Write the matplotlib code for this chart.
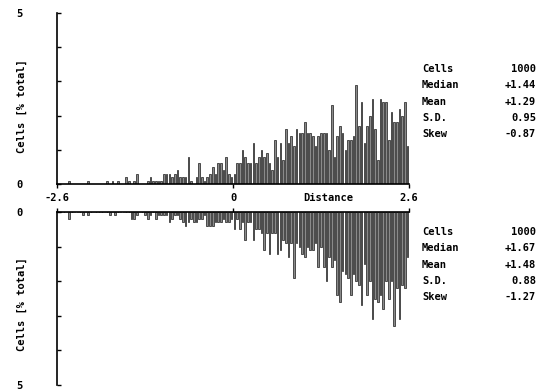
import numpy as np
import matplotlib
matplotlib.use("Agg")
import matplotlib.pyplot as plt

# bin edges of the distance histogram
x_min, x_max = -2.6, 2.6
x_ticks = [-2.6, 0, 2.6]
x_ticklabels = ["-2.6", "0", "2.6"]

# cell percentages per bin (top panel)
top_pct = [
    0, 0, 0, 0, 0.1, 0, 0, 0, 0, 0,
    0, 0.1, 0, 0, 0, 0, 0, 0, 0.1, 0,
    0.1, 0, 0.1, 0, 0, 0.2, 0.1, 0, 0.1, 0.3,
    0, 0, 0, 0.1, 0.2, 0.1, 0.1, 0.1, 0.1, 0.3,
    0.3, 0.3, 0.2,
    0.3, 0.4, 0.2, 0.2, 0.2, 0.8, 0.1, 0, 0.2, 0.6,
    0.2, 0.1, 0.2, 0.3, 0.5, 0.3, 0.6, 0.6, 0.4, 0.8,
    0.3, 0.2,
    0.3, 0.6, 0.6, 1.0, 0.8, 0.6, 0.6, 1.2, 0.6, 0.8,
    1.0, 0.8, 0.9, 0.6, 0.4, 1.3, 0.8, 1.2, 0.7, 1.6, 1.2,
    1.4, 1.1, 1.6, 1.5, 1.5, 1.8, 1.5, 1.5, 1.4, 1.1,
    1.4, 1.5, 1.5, 1.5, 1.0, 2.3, 0.8, 1.4, 1.7, 1.5,
    1.0, 1.3, 1.3, 1.4, 2.9, 1.7, 2.4, 1.2, 1.7, 2.0,
    2.5, 1.6, 0.7, 2.5, 2.4, 2.4, 1.3, 2.1, 1.8, 1.8,
    2.2, 2.0, 2.4, 1.1,
]

# bottom panel
bot_pct = [
    0, 0, 0, 0, 0.2, 0, 0, 0, 0, 0.1,
    0, 0.1, 0, 0, 0, 0, 0, 0, 0, 0.1,
    0, 0.1, 0, 0, 0, 0, 0, 0.2, 0.2, 0.1,
    0, 0, 0.1, 0.2, 0.1, 0, 0.2, 0.1, 0.1, 0.1,
    0.1, 0.3, 0.2,
    0.1, 0.1, 0.2, 0.3, 0.4, 0.3, 0.2, 0.3, 0.3, 0.2,
    0.2, 0.1, 0.4, 0.4, 0.4, 0.3, 0.3, 0.3, 0.2, 0.3,
    0.3, 0.2,
    0.5, 0.2, 0.5, 0.3, 0.8, 0.3, 0.3, 0.8, 0.5, 0.5,
    0.6, 1.1, 0.6, 1.2, 0.6, 0.6, 1.2, 1.1, 0.8, 0.9,
    1.3, 0.9, 1.9,
    0.9, 1.0, 1.2, 1.3, 1.0, 1.1, 1.1, 0.9, 1.6, 1.0,
    1.6, 2.0, 1.3, 1.6, 1.4, 2.4, 2.6, 1.7, 1.8, 1.9,
    2.4, 1.8, 2.0, 2.1, 2.7, 1.5, 2.4, 2.0, 3.1, 2.5,
    2.6, 2.4, 2.8, 2.0, 2.5, 2.0, 3.3, 2.2, 3.1, 2.1,
    2.2, 1.3,
]

stat_names = ["Cells", "Median", "Mean", "S.D.", "Skew"]
top_stats = ["1000", "+1.44", "+1.29", "0.95", "-0.87"]
bot_stats = ["1000", "+1.67", "+1.48", "0.88", "-1.27"]

font = dict(family="DejaVu Sans Mono", weight="bold", size=7.5)

fig = plt.figure(figsize=(5.41, 3.91), dpi=100)
ax1 = fig.add_axes([0.1054, 0.5294, 0.6506, 0.4373])
ax2 = fig.add_axes([0.1054, 0.0153, 0.6506, 0.4425])
ax1.patch.set_visible(False)
ax2.patch.set_visible(False)


def draw(ax, vals):
    n = len(vals)
    edges = np.linspace(x_min, x_max, n + 1)
    w = edges[1] - edges[0]
    ax.bar(edges[:-1] + w / 2, vals, width=w * 0.6, color="#8a8a8a",
           edgecolor="#1a1a1a", linewidth=0.5)
    ax.set_xlim(x_min, x_max)
    ax.set_yticks([0, 1, 2, 3, 4, 5])
    ax.set_yticklabels(["0", "", "", "", "", "5"], **font)
    ax.tick_params(axis="y", direction="in", length=3, width=1, pad=25)
    ax.set_ylabel("Cells [% total]", **font)
    ax.spines["right"].set_visible(False)
    for s in ax.spines.values():
        s.set_linewidth(1.2)
    ax.set_xticks(x_ticks)
    ax.set_xticklabels([])
    ax.tick_params(axis="x", direction="out", length=3, width=1)


draw(ax1, top_pct)
ax1.set_ylim(0, 5)
ax1.spines["top"].set_visible(False)
ax1.yaxis.set_label_coords(-0.085, 0.456)
# distance scale labels sit in the gap between both panels
xt = ax1.get_xaxis_transform()
for xv, lab in zip(x_ticks, x_ticklabels):
    ax1.text(xv, -0.08, lab, transform=xt, ha="center", va="center",
             zorder=10, **font)
ax1.text(1.4, -0.08, "Distance", transform=xt, ha="center", va="center", **font)

draw(ax2, bot_pct)
ax2.set_ylim(5, 0)
ax2.spines["bottom"].set_visible(False)
ax2.xaxis.set_ticks_position("top")
ax2.yaxis.set_label_coords(-0.085, 0.47)

for stats, y0 in [(top_stats, 69), (bot_stats, 232)]:
    for i, (name, val) in enumerate(zip(stat_names, stats)):
        y = 1 - (y0 + i * 16.3) / 391
        fig.text(422 / 541, y, name, ha="left", va="center", **font)
        fig.text(536 / 541, y, val, ha="right", va="center", **font)

fig.savefig("out.png", dpi=100)
